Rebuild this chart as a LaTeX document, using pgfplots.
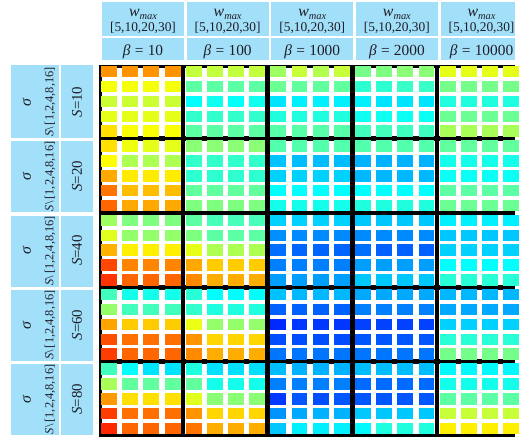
\documentclass[border=0pt]{standalone}
\usepackage{pgfplots}
\pgfplotsset{compat=1.18}
\usepackage{fontspec}
\setmainfont{Liberation Serif}
\definecolor{hdr}{RGB}{162,224,249}
\definecolor{txt}{RGB}{30,30,40}
\pgfdeclareplotmark{cell}{\pgfpathrectangle{\pgfpoint{-8pt}{-5.8pt}}{\pgfpoint{16pt}{11.6pt}}\pgfusepathqfill}
\begin{document}
\begin{tikzpicture}
\begin{axis}[
  scale only axis, width=519pt, height=440pt,
  xmin=0, xmax=519, ymin=0, ymax=440, y dir=reverse,
  ticks=none, axis line style={draw=none},
  clip=true, clip bounding box=upper bound,
  colormap={myjet}{rgb255(0cm)=(0,0,128) rgb255(1cm)=(0,0,255) rgb255(3cm)=(0,255,255) rgb255(5cm)=(255,255,0) rgb255(7cm)=(255,0,0) rgb255(8cm)=(128,0,0)},
  point meta min=0, point meta max=1,
]
% rows: S=10,20,40,60,80 (each sigma=1,2,4,8,16); columns: beta=10,100,1000,2000,10000 (each w_max=5,10,20,30)
\addplot[scatter, only marks, mark=cell, point meta=explicit,
  scatter/use mapped color={draw=none, fill=mapped color}] table[row sep=\\, header=false, meta index=0,
  x expr={99.3+(\coordindex-20*floor((\coordindex+0.5)/20)+0.5)*21.325},
  y expr={64.8+(floor((\coordindex+0.5)/20)+0.5)*14.985}] {
0.73\\ 0.73\\ 0.73\\ 0.73\\ 0.565\\ 0.565\\ 0.565\\ 0.565\\ 0.53\\ 0.57\\ 0.55\\ 0.57\\ 0.49\\ 0.50\\ 0.51\\ 0.51\\ 0.60\\ 0.60\\ 0.60\\ 0.60\\
0.615\\ 0.615\\ 0.615\\ 0.615\\ 0.465\\ 0.465\\ 0.465\\ 0.465\\ 0.48\\ 0.47\\ 0.47\\ 0.47\\ 0.42\\ 0.42\\ 0.43\\ 0.43\\ 0.49\\ 0.49\\ 0.49\\ 0.49\\
0.575\\ 0.575\\ 0.575\\ 0.575\\ 0.375\\ 0.39\\ 0.38\\ 0.39\\ 0.35\\ 0.36\\ 0.36\\ 0.36\\ 0.36\\ 0.35\\ 0.35\\ 0.35\\ 0.405\\ 0.405\\ 0.405\\ 0.405\\
0.60\\ 0.60\\ 0.60\\ 0.60\\ 0.425\\ 0.425\\ 0.425\\ 0.425\\ 0.405\\ 0.405\\ 0.405\\ 0.405\\ 0.39\\ 0.39\\ 0.385\\ 0.385\\ 0.48\\ 0.48\\ 0.48\\ 0.48\\
0.655\\ 0.62\\ 0.62\\ 0.62\\ 0.465\\ 0.465\\ 0.465\\ 0.465\\ 0.46\\ 0.46\\ 0.46\\ 0.46\\ 0.44\\ 0.44\\ 0.435\\ 0.435\\ 0.54\\ 0.54\\ 0.54\\ 0.54\\
0.655\\ 0.61\\ 0.60\\ 0.60\\ 0.51\\ 0.51\\ 0.51\\ 0.51\\ 0.455\\ 0.455\\ 0.455\\ 0.455\\ 0.455\\ 0.455\\ 0.455\\ 0.455\\ 0.47\\ 0.47\\ 0.47\\ 0.47\\
0.625\\ 0.545\\ 0.545\\ 0.545\\ 0.425\\ 0.425\\ 0.425\\ 0.425\\ 0.315\\ 0.31\\ 0.31\\ 0.31\\ 0.30\\ 0.30\\ 0.30\\ 0.30\\ 0.395\\ 0.395\\ 0.395\\ 0.395\\
0.71\\ 0.645\\ 0.645\\ 0.645\\ 0.42\\ 0.42\\ 0.42\\ 0.42\\ 0.33\\ 0.33\\ 0.33\\ 0.33\\ 0.305\\ 0.305\\ 0.305\\ 0.305\\ 0.385\\ 0.385\\ 0.385\\ 0.385\\
0.76\\ 0.69\\ 0.69\\ 0.69\\ 0.47\\ 0.47\\ 0.47\\ 0.47\\ 0.375\\ 0.375\\ 0.375\\ 0.375\\ 0.375\\ 0.375\\ 0.375\\ 0.375\\ 0.465\\ 0.465\\ 0.465\\ 0.465\\
0.775\\ 0.71\\ 0.71\\ 0.71\\ 0.50\\ 0.50\\ 0.50\\ 0.50\\ 0.395\\ 0.395\\ 0.395\\ 0.395\\ 0.405\\ 0.405\\ 0.405\\ 0.405\\ 0.48\\ 0.48\\ 0.48\\ 0.48\\
0.53\\ 0.50\\ 0.50\\ 0.50\\ 0.465\\ 0.445\\ 0.445\\ 0.445\\ 0.33\\ 0.33\\ 0.33\\ 0.33\\ 0.32\\ 0.32\\ 0.32\\ 0.32\\ 0.36\\ 0.36\\ 0.36\\ 0.36\\
0.595\\ 0.52\\ 0.52\\ 0.52\\ 0.50\\ 0.465\\ 0.465\\ 0.465\\ 0.265\\ 0.26\\ 0.26\\ 0.26\\ 0.26\\ 0.26\\ 0.26\\ 0.26\\ 0.32\\ 0.32\\ 0.32\\ 0.32\\
0.70\\ 0.64\\ 0.64\\ 0.64\\ 0.60\\ 0.545\\ 0.545\\ 0.545\\ 0.233\\ 0.223\\ 0.223\\ 0.223\\ 0.233\\ 0.22\\ 0.22\\ 0.22\\ 0.33\\ 0.33\\ 0.33\\ 0.33\\
0.805\\ 0.745\\ 0.745\\ 0.745\\ 0.71\\ 0.675\\ 0.675\\ 0.675\\ 0.25\\ 0.25\\ 0.25\\ 0.25\\ 0.28\\ 0.28\\ 0.28\\ 0.28\\ 0.375\\ 0.375\\ 0.375\\ 0.375\\
0.825\\ 0.775\\ 0.775\\ 0.775\\ 0.74\\ 0.705\\ 0.705\\ 0.705\\ 0.28\\ 0.28\\ 0.28\\ 0.28\\ 0.32\\ 0.32\\ 0.32\\ 0.32\\ 0.415\\ 0.415\\ 0.415\\ 0.415\\
0.44\\ 0.395\\ 0.395\\ 0.395\\ 0.415\\ 0.375\\ 0.375\\ 0.375\\ 0.315\\ 0.305\\ 0.305\\ 0.305\\ 0.29\\ 0.29\\ 0.29\\ 0.29\\ 0.305\\ 0.305\\ 0.305\\ 0.305\\
0.52\\ 0.44\\ 0.44\\ 0.44\\ 0.425\\ 0.405\\ 0.405\\ 0.405\\ 0.22\\ 0.22\\ 0.22\\ 0.22\\ 0.25\\ 0.25\\ 0.25\\ 0.25\\ 0.29\\ 0.29\\ 0.29\\ 0.29\\
0.715\\ 0.675\\ 0.675\\ 0.675\\ 0.605\\ 0.52\\ 0.52\\ 0.52\\ 0.165\\ 0.178\\ 0.18\\ 0.178\\ 0.19\\ 0.19\\ 0.19\\ 0.19\\ 0.33\\ 0.33\\ 0.33\\ 0.33\\
0.80\\ 0.765\\ 0.765\\ 0.765\\ 0.73\\ 0.665\\ 0.665\\ 0.665\\ 0.20\\ 0.20\\ 0.20\\ 0.20\\ 0.21\\ 0.21\\ 0.21\\ 0.21\\ 0.415\\ 0.415\\ 0.415\\ 0.415\\
0.815\\ 0.775\\ 0.775\\ 0.775\\ 0.74\\ 0.705\\ 0.705\\ 0.705\\ 0.24\\ 0.24\\ 0.24\\ 0.24\\ 0.24\\ 0.24\\ 0.24\\ 0.24\\ 0.49\\ 0.49\\ 0.49\\ 0.49\\
0.44\\ 0.375\\ 0.35\\ 0.35\\ 0.405\\ 0.345\\ 0.345\\ 0.345\\ 0.31\\ 0.30\\ 0.30\\ 0.30\\ 0.31\\ 0.31\\ 0.31\\ 0.31\\ 0.37\\ 0.37\\ 0.37\\ 0.37\\
0.54\\ 0.47\\ 0.47\\ 0.47\\ 0.47\\ 0.395\\ 0.395\\ 0.395\\ 0.25\\ 0.25\\ 0.25\\ 0.25\\ 0.23\\ 0.23\\ 0.23\\ 0.23\\ 0.395\\ 0.395\\ 0.395\\ 0.395\\
0.725\\ 0.655\\ 0.655\\ 0.655\\ 0.595\\ 0.51\\ 0.51\\ 0.51\\ 0.18\\ 0.21\\ 0.20\\ 0.21\\ 0.21\\ 0.21\\ 0.21\\ 0.21\\ 0.465\\ 0.465\\ 0.465\\ 0.465\\
0.815\\ 0.765\\ 0.765\\ 0.765\\ 0.73\\ 0.665\\ 0.665\\ 0.665\\ 0.27\\ 0.29\\ 0.30\\ 0.30\\ 0.32\\ 0.32\\ 0.32\\ 0.32\\ 0.57\\ 0.57\\ 0.57\\ 0.57\\
0.835\\ 0.775\\ 0.775\\ 0.775\\ 0.76\\ 0.705\\ 0.705\\ 0.705\\ 0.32\\ 0.36\\ 0.36\\ 0.36\\ 0.37\\ 0.405\\ 0.405\\ 0.405\\ 0.64\\ 0.64\\ 0.64\\ 0.64\\
};
\fill[white] (axis cs:95,58) rectangle (axis cs:519,66);
\fill[white] (axis cs:94,58) rectangle (axis cs:100,440);
% black block separators
\pgfplotsinvokeforeach{1,...,4}{
  \draw[black, line width=4.6pt] (axis cs:{99.3+85.3*#1},66) -- (axis cs:{99.3+85.3*#1},440);
  \draw[black, line width=4.6pt] (axis cs:100,{64.8+74.925*#1}) -- (axis cs:519,{64.8+74.925*#1});
}
\draw[black, line width=4.6pt] (axis cs:100,439.6) -- (axis cs:519,439.6);
\fill[black] (axis cs:100,66) rectangle (axis cs:519,68.4);
\fill[black] (axis cs:100,66) rectangle (axis cs:102.7,440);
% top header
\pgfplotsinvokeforeach{0,...,4}{
  \fill[hdr] (axis cs:{99.3+85.3*#1+3.6},1.7) rectangle (axis cs:{99.3+85.3*#1+86.1},36);
  \fill[hdr] (axis cs:{99.3+85.3*#1+3.6},38.3) rectangle (axis cs:{99.3+85.3*#1+86.1},60);
  \node[anchor=base, inner sep=0pt, text=txt] at (axis cs:{99.3+85.3*#1+44.85},16.8)
    {\fontsize{16}{16}\selectfont\textit{w}\raisebox{-3.2pt}{\fontsize{10.5}{10.5}\selectfont\textit{max}}};
  \node[inner sep=0pt, text=txt, font=\fontsize{13.5}{13.5}\selectfont] at (axis cs:{99.3+85.3*#1+44.85},28) {[5,10,20,30]};
}
\node[anchor=base, inner sep=0pt, text=txt, font=\fontsize{15.5}{15.5}\selectfont] at (axis cs:144.15,56) {\textit{β}\hspace{0.28em}=\hspace{0.28em}10};
\node[anchor=base, inner sep=0pt, text=txt, font=\fontsize{15.5}{15.5}\selectfont] at (axis cs:229.45,56) {\textit{β}\hspace{0.28em}=\hspace{0.28em}100};
\node[anchor=base, inner sep=0pt, text=txt, font=\fontsize{15.5}{15.5}\selectfont] at (axis cs:314.75,56) {\textit{β}\hspace{0.28em}=\hspace{0.28em}1000};
\node[anchor=base, inner sep=0pt, text=txt, font=\fontsize{15.5}{15.5}\selectfont] at (axis cs:400.05,56) {\textit{β}\hspace{0.28em}=\hspace{0.28em}2000};
\node[anchor=base, inner sep=0pt, text=txt, font=\fontsize{15.5}{15.5}\selectfont] at (axis cs:485.35,56) {\textit{β}\hspace{0.28em}=\hspace{0.28em}10000};
% left header
\fill[hdr] (axis cs:11,66) rectangle (axis cs:59.3,139.1);
\fill[hdr] (axis cs:61.7,66) rectangle (axis cs:93.3,139.1);
\pgfplotsinvokeforeach{1,...,4}{
  \fill[hdr] (axis cs:11,{64.8+74.925*#1+2.6}) rectangle (axis cs:59.3,{64.8+74.925*(#1+1)-0.6});
  \fill[hdr] (axis cs:61.7,{64.8+74.925*#1+2.6}) rectangle (axis cs:93.3,{64.8+74.925*(#1+1)-0.6});
}
\pgfplotsinvokeforeach{0,...,4}{
  \node[rotate=90, inner sep=0pt, text=txt, font=\fontsize{16}{16}\selectfont] at (axis cs:27,{64.8+74.925*#1+38}) {\textit{σ}};
  \node[rotate=90, inner sep=0pt, text=txt, font=\fontsize{12.5}{12.5}\selectfont] at (axis cs:50.5,{64.8+74.925*#1+38}) {\textit{S}\textbackslash\,[1,2,4,8,16]};
}
\node[rotate=90, inner sep=0pt, text=txt, font=\fontsize{15}{15}\selectfont] at (axis cs:77.5,102.8) {\textit{S}=10};
\node[rotate=90, inner sep=0pt, text=txt, font=\fontsize{15}{15}\selectfont] at (axis cs:77.5,177.7) {\textit{S}=20};
\node[rotate=90, inner sep=0pt, text=txt, font=\fontsize{15}{15}\selectfont] at (axis cs:77.5,252.6) {\textit{S}=40};
\node[rotate=90, inner sep=0pt, text=txt, font=\fontsize{15}{15}\selectfont] at (axis cs:77.5,327.6) {\textit{S}=60};
\node[rotate=90, inner sep=0pt, text=txt, font=\fontsize{15}{15}\selectfont] at (axis cs:77.5,402.5) {\textit{S}=80};
\end{axis}
\end{tikzpicture}
\end{document}
